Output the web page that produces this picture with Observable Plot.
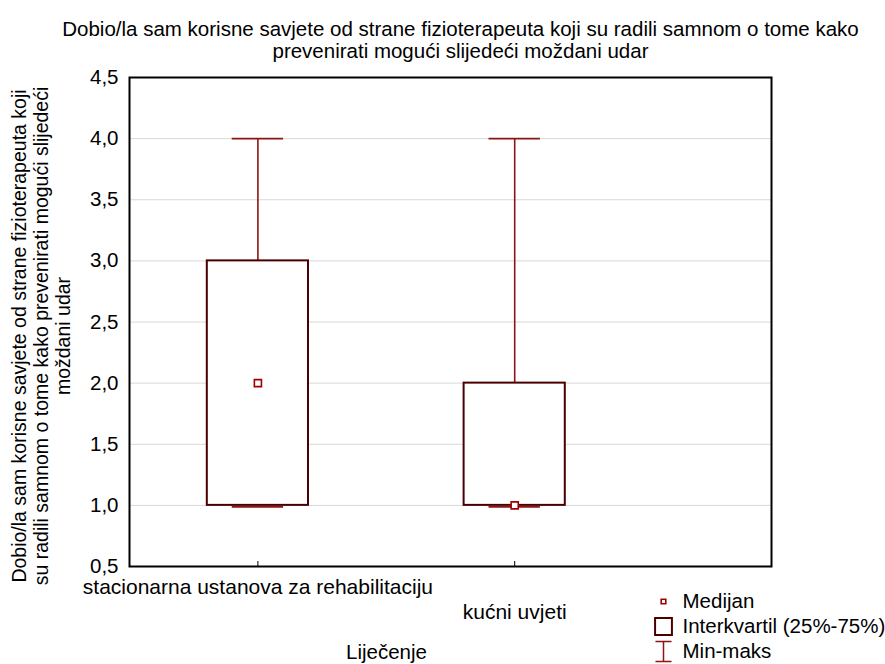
<!DOCTYPE html>
<html><head><meta charset="utf-8">
<script src="https://cdn.jsdelivr.net/npm/d3@7"></script>
<script src="https://cdn.jsdelivr.net/npm/@observablehq/plot@0.6"></script>
<style>body{margin:0;background:#fff} #chart svg{font-family:"Liberation Sans",Arial,sans-serif;overflow:visible}</style>
</head><body><div id="chart"></div>
<script>
const categories = ["stacionarna ustanova za rehabilitaciju", "kućni uvjeti"];
const positions = [1, 2];
const minValues = [1, 1];
const q1Values = [1, 1];
const medianValues = [2, 1];
const q3Values = [3, 2];
const maxValues = [4, 4];
const yTicks = [0.5, 1, 1.5, 2, 2.5, 3, 3.5, 4, 4.5];
const titleText = "Dobio/la sam korisne savjete od strane fizioterapeuta koji su radili samnom o tome kako\nprevenirati mogući slijedeći moždani udar";
const yLabelText = "Dobio/la sam korisne savjete od strane fizioterapeuta koji\nsu radili samnom o tome kako prevenirati mogući slijedeći\nmoždani udar";
const xLabelText = "Liječenje";
const legendLabels = ["Medijan", "Interkvartil (25%-75%)", "Min-maks"];

const data = categories.map((c, i) => ({cat: c, pos: positions[i], min: minValues[i], q1: q1Values[i], med: medianValues[i], q3: q3Values[i], max: maxValues[i]}));

const boxColor = "#4a0000";
const whiskerColor = "#8e1515";
const medianColor = "#a00000";
const boxHalf = 0.197, capHalf = 0.1;
const fmt = d => d.toFixed(1).replace(".", ",");
const FS = 20.5;

const errorBarSymbol = {
  draw(context, size) {
    context.moveTo(-8, -10); context.lineTo(8, -10);
    context.moveTo(0, -10); context.lineTo(0, 10);
    context.moveTo(-8, 10); context.lineTo(8, 10);
  }
};

const chart = Plot.plot({
  width: 885,
  height: 664,
  marginLeft: 129,
  marginRight: 114,
  marginTop: 77,
  marginBottom: 98,
  style: {background: "white", fontSize: FS + "px"},
  x: {domain: [0.5, 3.0], axis: null},
  y: {domain: [0.5, 4.5], axis: null},
  marks: [
    Plot.gridY(yTicks, {stroke: "#d8d8d8", strokeOpacity: 1, strokeWidth: 1}),
    Plot.ruleX(data, {x: "pos", y1: "min", y2: "max", stroke: whiskerColor, strokeWidth: 1.6}),
    Plot.ruleY(data, {y: "max", x1: d => d.pos - capHalf, x2: d => d.pos + capHalf, stroke: whiskerColor, strokeWidth: 1.8}),
    Plot.rect(data, {x1: d => d.pos - boxHalf, x2: d => d.pos + boxHalf, y1: "q1", y2: "q3", fill: "white", stroke: boxColor, strokeWidth: 2}),
    Plot.ruleY(data, {y: "min", x1: d => d.pos - capHalf, x2: d => d.pos + capHalf, stroke: whiskerColor, strokeWidth: 1.6, dy: 1.5}),
    Plot.dot(data, {x: "pos", y: "med", symbol: "square", r: 4, fill: "white", stroke: medianColor, strokeWidth: 1.6}),
    Plot.ruleX(positions, {x: d => d, insetTop: 484, stroke: "black", strokeWidth: 1}),
    Plot.frame({stroke: "black", strokeWidth: 2}),
    Plot.axisY({ticks: yTicks, tickSize: 0, tickPadding: 11, tickFormat: fmt, fontSize: 20.5, label: null}),
    Plot.axisX({ticks: [positions[0]], tickSize: 0, tickPadding: 13, tickFormat: () => categories[0], fontSize: 21, label: null}),
    Plot.axisX({ticks: [positions[1]], tickSize: 0, tickPadding: 38, tickFormat: () => categories[1], fontSize: 21, label: null}),
    Plot.text([titleText], {text: d => d, frameAnchor: "top", dx: 10, dy: -38, lineAnchor: "middle", lineHeight: 1.08, fontSize: FS, fill: "black"}),
    Plot.text([yLabelText], {text: d => d, frameAnchor: "left", textAnchor: "middle", dx: -89, dy: 14, rotate: -90, lineAnchor: "middle", lineHeight: 1.13, fontSize: 19.5, fill: "black"}),
    Plot.text([xLabelText], {text: d => d, frameAnchor: "bottom", dx: -64, dy: 86, lineAnchor: "middle", fontSize: FS, fill: "black"}),
    Plot.dot([legendLabels[0]], {frameAnchor: "bottom-left", dx: 534, dy: 35, symbol: "square", r: 2.6, fill: "white", stroke: medianColor, strokeWidth: 1.6}),
    Plot.dot([legendLabels[1]], {frameAnchor: "bottom-left", dx: 534, dy: 60, symbol: "square", r: 9.5, fill: "white", stroke: boxColor, strokeWidth: 2}),
    Plot.dot([legendLabels[2]], {frameAnchor: "bottom-left", dx: 534, dy: 85, symbol: errorBarSymbol, fill: "none", stroke: whiskerColor, strokeWidth: 1.5}),
    Plot.text([legendLabels[0]], {text: d => d, frameAnchor: "bottom-left", dx: 553, dy: 35, textAnchor: "start", lineAnchor: "middle", fontSize: FS, fill: "black"}),
    Plot.text([legendLabels[1]], {text: d => d, frameAnchor: "bottom-left", dx: 553, dy: 60, textAnchor: "start", lineAnchor: "middle", fontSize: FS, fill: "black"}),
    Plot.text([legendLabels[2]], {text: d => d, frameAnchor: "bottom-left", dx: 553, dy: 85, textAnchor: "start", lineAnchor: "middle", fontSize: FS, fill: "black"})
  ]
});
document.getElementById("chart").append(chart);
</script>
</body></html>
